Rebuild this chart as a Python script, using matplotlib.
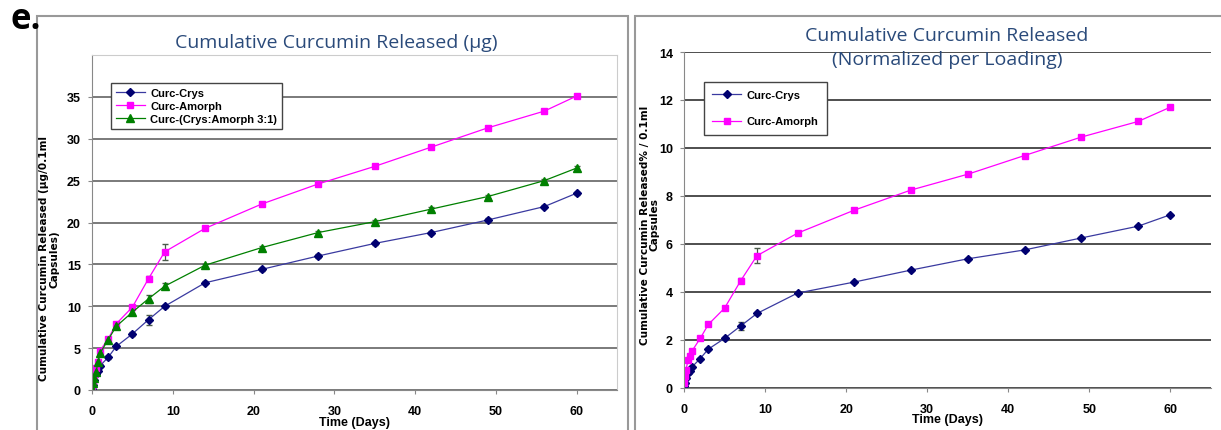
import matplotlib
matplotlib.use('Agg')
import matplotlib.pyplot as plt
from matplotlib.patches import Rectangle

# sampling times (days)
days = [0, 0.125, 0.25, 0.5, 0.75, 1, 2, 3, 5, 7, 9, 14, 21, 28, 35, 42, 49, 56, 60]

# left panel: cumulative release (ug / 0.1 ml capsules)
crysUg = [0.1, 0.6, 1.2, 1.9, 2.3, 2.9, 3.9, 5.2, 6.7, 8.4, 10.0, 12.8, 14.4, 16.0, 17.5, 18.8, 20.3, 21.9, 23.5]
crysUgErr = [0, 0, 0, 0, 0, 0.15, 0.15, 0.15, 0.2, 0.6, 0.2, 0.2, 0.2, 0.2, 0.2, 0.2, 0.2, 0.2, 0.2]
amorphUg = [0.2, 1.0, 1.8, 2.6, 3.4, 4.7, 6.1, 7.9, 9.9, 13.3, 16.5, 19.3, 22.2, 24.6, 26.7, 29.0, 31.3, 33.3, 35.1]
amorphUgErr = [0, 0, 0, 0, 0, 0.2, 0.2, 0.2, 0.2, 0.3, 0.95, 0.25, 0.25, 0.25, 0.25, 0.25, 0.25, 0.25, 0.25]
mixUg = [0.1, 0.8, 1.4, 2.2, 3.3, 4.4, 6.0, 7.6, 9.3, 10.9, 12.4, 14.9, 17.0, 18.8, 20.1, 21.6, 23.1, 25.0, 26.5]
mixUgErr = [0, 0, 0, 0, 0, 0.15, 0.15, 0.2, 0.2, 0.5, 0.35, 0.2, 0.2, 0.2, 0.2, 0.2, 0.2, 0.2, 0.2]

# right panel: normalized per loading (% / 0.1 ml capsules)
crysPct = [0.05, 0.2, 0.4, 0.6, 0.7, 0.86, 1.21, 1.60, 2.05, 2.57, 3.09, 3.94, 4.40, 4.90, 5.37, 5.74, 6.24, 6.73, 7.21]
crysPctErr = [0, 0, 0, 0, 0, 0.04, 0.04, 0.05, 0.05, 0.17, 0.06, 0.05, 0.05, 0.05, 0.05, 0.05, 0.05, 0.05, 0.05]
amorphPct = [0.2, 0.5, 0.75, 1.14, 1.3, 1.53, 2.05, 2.63, 3.31, 4.46, 5.50, 6.44, 7.40, 8.24, 8.90, 9.68, 10.45, 11.10, 11.70]
amorphPctErr = [0, 0, 0, 0, 0, 0.05, 0.06, 0.06, 0.06, 0.1, 0.32, 0.06, 0.06, 0.06, 0.06, 0.06, 0.06, 0.06, 0.06]

xTicks = [0, 10, 20, 30, 40, 50, 60]

titleColor = '#2a4a7a'
crysColor, crysLine = '#000070', '#3a3aa0'
amorphColor = '#ff00ff'
mixColor = '#008000'
errColor = '#4a5a4a'
tickFont = 'Liberation Sans'

W, H = 1221, 431
fig = plt.figure(figsize=(W / 100, H / 100), dpi=100)

# panel frames
fig.patches.append(Rectangle((37 / W, -0.1), 591 / W, 1 - 17 / H + 0.1, transform=fig.transFigure,
                             fill=False, edgecolor='#999999', linewidth=1.5))
fig.patches.append(Rectangle((635 / W, -0.1), 0.6, 1 - 17 / H + 0.1, transform=fig.transFigure,
                             fill=False, edgecolor='#999999', linewidth=1.5))

fig.text(10 / W, 1 - 29 / H, 'e.', fontsize=25, fontweight='bold', family='Open Sans', va='baseline')

def styleAxes(ax, ylim, yticks, gridColor, frame):
        ax.set_xlim(0, 65)
        ax.set_ylim(*ylim)
        ax.set_xticks(xTicks)
        ax.set_yticks(yticks)
        ax.yaxis.grid(True, color=gridColor, linewidth=1.3)
        ax.set_axisbelow(True)
        for side in ['left', 'bottom']:
                ax.spines[side].set_color('#888888')
        for side in ['top', 'right']:
                ax.spines[side].set_color('#cccccc')
                ax.spines[side].set_visible(frame)
        ax.tick_params(length=3, color='#888888', labelsize=9)
        ax.tick_params(axis='x', pad=8)
        ax.tick_params(axis='y', pad=5)
        for lab in ax.get_xticklabels() + ax.get_yticklabels():
                lab.set_fontweight('bold')
                lab.set_family(tickFont)
        ax.set_xlabel('Time (Days)', fontsize=9, fontweight='bold', family=tickFont, labelpad=-1)

def series(ax, y, err, color, line, marker, ms):
        cont = ax.errorbar(days, y, yerr=err, color=line, marker=marker, markersize=ms,
                           markerfacecolor=color, markeredgecolor=color, linewidth=0.9,
                           ecolor=errColor, elinewidth=0.9, capsize=2.5)
        return cont[0]

# left panel
ax1 = fig.add_axes([92 / W, 1 - 391 / H, 525 / W, 335 / H])
styleAxes(ax1, (0, 40), [0, 5, 10, 15, 20, 25, 30, 35], '#707070', True)
h1 = [series(ax1, crysUg, crysUgErr, crysColor, crysLine, 'D', 4.2),
      series(ax1, amorphUg, amorphUgErr, amorphColor, amorphColor, 's', 5),
      series(ax1, mixUg, mixUgErr, mixColor, mixColor, '^', 5.5)]
fig.text(49 / W, 1 - 259 / H, 'Cumulative Curcumin Released (\u00b5g/0.1ml\nCapsules)', fontsize=7.6,
         fontweight='bold', linespacing=1.0, rotation=90, ha='center', va='center')
leg1 = ax1.legend(h1, ['Curc-Crys', 'Curc-Amorph', 'Curc-(Crys:Amorph 3:1)'], loc='upper left',
                  bbox_to_anchor=(19 / 525, 1 - 28 / 335), borderaxespad=0, fancybox=False,
                  framealpha=1, edgecolor='#444444', handlelength=2.6, handletextpad=0.5,
                  borderpad=0.42, labelspacing=0.3,
                  prop={'family': tickFont, 'weight': 'bold', 'size': 8})
leg1.get_frame().set_linewidth(1.0)
fig.text(336 / W, 1 - 43 / H, 'Cumulative Curcumin Released (\u00b5g)', fontsize=14, color=titleColor,
         family='Open Sans', ha='center', va='center')

# right panel
ax2 = fig.add_axes([684 / W, 1 - 388.5 / H, 527 / W, 335.5 / H])
styleAxes(ax2, (0, 14), [0, 2, 4, 6, 8, 10, 12, 14], '#404040', False)
h2 = [series(ax2, crysPct, crysPctErr, crysColor, crysLine, 'D', 4.2),
      series(ax2, amorphPct, amorphPctErr, amorphColor, amorphColor, 's', 5)]
fig.text(650 / W, 1 - 225 / H, 'Cumulative Curcumin Released% / 0.1ml\nCapsules', fontsize=7.6,
         fontweight='bold', linespacing=1.0, rotation=90, ha='center', va='center')
leg2 = ax2.legend(h2, ['Curc-Crys', 'Curc-Amorph'], loc='upper left',
                  bbox_to_anchor=(20 / 527, 1 - 30 / 335.5), borderaxespad=0, fancybox=False,
                  framealpha=1, edgecolor='#444444', handlelength=2.6, handletextpad=0.5,
                  borderpad=0.75, labelspacing=1.45,
                  prop={'family': tickFont, 'weight': 'bold', 'size': 8})
leg2.get_frame().set_linewidth(1.0)
fig.text(947 / W, 1 - 48 / H, 'Cumulative Curcumin Released\n(Normalized per Loading)', fontsize=14,
         color=titleColor, family='Open Sans', ha='center', va='center', linespacing=1.45)

fig.savefig('out.png', dpi=100)
